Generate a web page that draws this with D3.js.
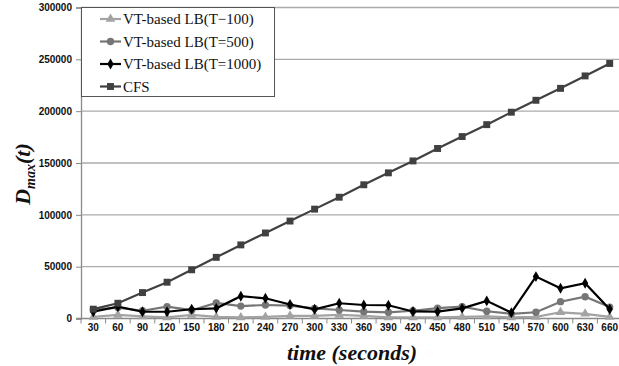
<!DOCTYPE html>
<html>
<head>
<meta charset="utf-8">
<script src="https://cdn.jsdelivr.net/npm/d3@7"></script>
<style>
  body { margin: 0; background: #fff; }
  svg { display: block; }
</style>
</head>
<body>
<div id="chart"></div>
<script>
  // categories (time in seconds)
  let times = [30, 60, 90, 120, 150, 180, 210, 240, 270, 300, 330, 360, 390, 420, 450, 480, 510, 540, 570, 600, 630, 660];

  let t100 = [1500, 3500, 2000, 1000, 3500, 1500, 1000, 1500, 2500, 2500, 3500, 2500, 1000, 1000, 1000, 1500, 2000, 1000, 1500, 6000, 4500, 1500];
  let t500 = [8500, 10500, 7500, 11500, 8000, 15000, 12000, 13000, 12500, 9800, 8200, 6600, 6000, 7500, 10000, 11500, 7000, 4500, 6000, 16200, 21000, 11000];
  let t1000 = [6500, 11400, 6500, 6500, 8900, 9800, 21500, 19500, 13500, 8900, 14700, 13000, 12800, 6800, 6600, 9800, 17000, 5600, 40400, 29200, 34000, 8900];
  let cfs = [9000, 14700, 25000, 35000, 47000, 59000, 71000, 82500, 94000, 105500, 117000, 129000, 140500, 152000, 164000, 175500, 187000, 199000, 210500, 222000, 234000, 246000];

  let yTicks = [0, 50000, 100000, 150000, 200000, 250000, 300000];

  let width = 619, height = 366;
  let plotLeft = 81, plotRight = 622, plotTop = 7.5, plotBottom = 318.5;

  let svg = d3.select("#chart").append("svg")
    .attr("width", width)
    .attr("height", height);

  let x = d3.scaleBand()
    .domain(times)
    .range([plotLeft, plotRight]);

  let y = d3.scaleLinear()
    .domain([0, 300000])
    .range([plotBottom, plotTop]);

  // gridlines
  svg.append("g")
    .selectAll("line")
    .data(yTicks.slice(1))
    .join("line")
    .attr("x1", plotLeft)
    .attr("x2", plotRight)
    .attr("y1", d => y(d))
    .attr("y2", d => y(d))
    .attr("stroke", "#ababab")
    .attr("stroke-width", 1.3);

  // y axis
  let yAxis = svg.append("g")
    .attr("transform", `translate(${plotLeft},0)`)
    .call(d3.axisLeft(y).tickValues(yTicks).tickSize(5).tickPadding(4).tickFormat(d3.format("d")));
  yAxis.select(".domain").attr("stroke", "#8a8a8a").attr("stroke-width", 1.3);
  yAxis.selectAll(".tick line").attr("stroke", "#8a8a8a");
  yAxis.selectAll("text")
    .attr("font-family", "Liberation Sans, Arial, sans-serif")
    .attr("font-weight", "bold")
    .attr("font-size", "10px")
    .attr("fill", "#111");

  // x axis: line plus ticks between categories
  let xg = svg.append("g");
  xg.append("line")
    .attr("x1", plotLeft - 5).attr("x2", plotRight)
    .attr("y1", plotBottom).attr("y2", plotBottom)
    .attr("stroke", "#8a8a8a").attr("stroke-width", 1.3);
  xg.selectAll("line.tk")
    .data(times)
    .join("line")
    .attr("class", "tk")
    .attr("x1", d => x(d)).attr("x2", d => x(d))
    .attr("y1", plotBottom).attr("y2", plotBottom + 5)
    .attr("stroke", "#8a8a8a");
  xg.selectAll("text")
    .data(times)
    .join("text")
    .attr("x", d => x(d) + x.bandwidth() / 2)
    .attr("y", 331)
    .attr("text-anchor", "middle")
    .attr("font-family", "Liberation Sans, Arial, sans-serif")
    .attr("font-weight", "bold")
    .attr("font-size", "10px")
    .attr("fill", "#111")
    .text(d => d);

  let cx = d => x(d) + x.bandwidth() / 2;

  let series = [
    { name: "VT-based LB(T\u2212100)", values: t100, color: "#a3a3a3", sym: d3.symbolTriangle, size: 40 },
    { name: "VT-based LB(T=500)", values: t500, color: "#767676", sym: d3.symbolCircle, size: 42 },
    { name: "VT-based LB(T=1000)", values: t1000, color: "#000000", sym: d3.symbolDiamond, size: 34 },
    { name: "CFS", values: cfs, color: "#404040", sym: d3.symbolSquare, size: 48 }
  ];

  let line = d3.line()
    .x((d, i) => cx(times[i]))
    .y(d => y(d));

  series.forEach(s => {
    let g = svg.append("g");
    g.append("path")
      .attr("d", line(s.values))
      .attr("fill", "none")
      .attr("stroke", s.color)
      .attr("stroke-width", 2.2);
    g.selectAll("path.m")
      .data(s.values)
      .join("path")
      .attr("class", "m")
      .attr("d", d3.symbol().type(s.sym).size(s.size))
      .attr("transform", (d, i) => `translate(${cx(times[i])},${y(d)})`)
      .attr("fill", s.color);
  });

  // legend
  let lg = svg.append("g");
  lg.append("rect")
    .attr("x", plotLeft + 0.5)
    .attr("y", plotTop)
    .attr("width", 193)
    .attr("height", 89)
    .attr("fill", "#fff")
    .attr("stroke", "#555")
    .attr("stroke-width", 1);
  series.forEach((s, i) => {
    let ly = 19 + i * 22.5;
    lg.append("line")
      .attr("x1", 100).attr("x2", 121)
      .attr("y1", ly).attr("y2", ly)
      .attr("stroke", s.color).attr("stroke-width", 2.2);
    lg.append("path")
      .attr("d", d3.symbol().type(s.sym).size(s.size)())
      .attr("transform", `translate(110.5,${ly})`)
      .attr("fill", s.color);
    lg.append("text")
      .attr("x", 123)
      .attr("y", ly)
      .attr("dy", "0.35em")
      .attr("font-family", "Liberation Serif, Times New Roman, serif")
      .attr("font-size", "15px")
      .attr("fill", "#111")
      .text(s.name);
  });

  // axis titles
  svg.append("text")
    .attr("x", 352)
    .attr("y", 360)
    .attr("text-anchor", "middle")
    .attr("font-family", "Liberation Serif, Times New Roman, serif")
    .attr("font-weight", "bold")
    .attr("font-style", "italic")
    .attr("font-size", "22px")
    .attr("fill", "#111")
    .text("time (seconds)");

  let yt = svg.append("text")
    .attr("transform", "translate(30,174) rotate(-90)")
    .attr("text-anchor", "middle")
    .attr("font-family", "Liberation Serif, Times New Roman, serif")
    .attr("font-weight", "bold")
    .attr("font-style", "italic")
    .attr("font-size", "22px")
    .attr("fill", "#111");
  yt.append("tspan").text("D");
  yt.append("tspan").attr("font-size", "14px").attr("dy", 5).text("max");
  yt.append("tspan").attr("dy", -5).text("(t)");
</script>
</body>
</html>
